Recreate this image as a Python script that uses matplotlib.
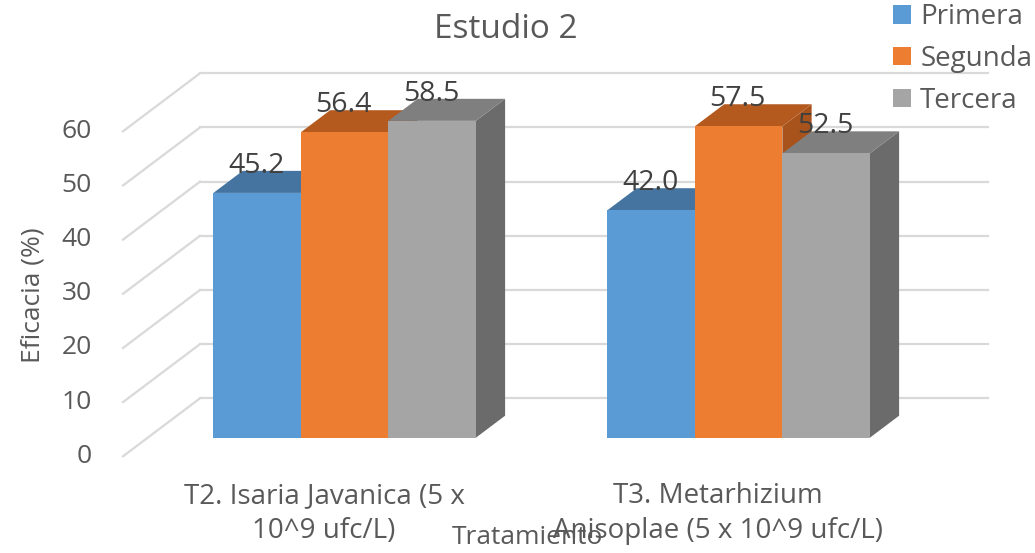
import matplotlib
matplotlib.use("Agg")
import matplotlib.pyplot as plt
from matplotlib.patches import Polygon, Patch
from matplotlib.transforms import Affine2D

# ---- data ----
categories = ["T2. Isaria Javanica (5 x\n10^9 ufc/L)",
              "T3. Metarhizium\nAnisoplae (5 x 10^9 ufc/L)"]
series_names = ["Primera", "Segunda", "Tercera"]
primera = [45.2, 42.0]
segunda = [56.4, 57.5]
tercera = [58.5, 52.5]
yticks = [0, 10, 20, 30, 40, 50, 60]
title = "Estudio 2"
ylabel = "Eficacia (%)"
xlabel = "Tratamiento"

# ---- style ----
front_cols = ["#5B9BD5", "#ED7D31", "#A5A5A5"]
top_cols = ["#44749F", "#B55A1F", "#7F7F7F"]
side_cols = ["#3E6A92", "#A8531C", "#6B6B6B"]
txt = "#595959"
grid_c = "#D9D9D9"
FONT = "Open Sans"

W, H = 1035, 553
fig = plt.figure(figsize=(W / 100, H / 100), dpi=100)
# back wall axes (pixels -> figure fraction)
left, right, y0px, y60px = 200, 988, 398.3, 73.3
ax = fig.add_axes([left / W, (H - y0px) / H, (right - left) / W, (y0px - y60px) / H])
ax.set_xlim(-0.5, 1.5)
ax.set_ylim(0, 60)
ax.axis("off")

DX, DY = -77.0, -58.0   # display offset from back (d=0) to front (d=1)


def tr(d, ox=0.0, oy=0.0):
    return ax.transData + Affine2D().translate(d * DX + ox, d * DY + oy)


inv = ax.transData.inverted()


def P(x, y, d):
    return inv.transform(tr(d).transform((x, y)))


# gridlines on back wall and side wall diagonals
for v in yticks:
    ax.plot([-0.5, 1.5], [v, v], color=grid_c, lw=1.6, clip_on=False, zorder=1)
    a = P(-0.5, v, 0)
    b = P(-0.5, v, 1)
    ax.plot([a[0], b[0]], [a[1], b[1]], color=grid_c, lw=1.6, clip_on=False, zorder=1)
    ax.text(-0.5, v, str(v), transform=tr(1, -31, 0), ha="right", va="center",
            fontsize=19, color=txt, family=FONT)

bw = 0.222
dfront, dback = 0.68, 0.30
all_series = [primera, segunda, tercera]

for ci in range(len(categories)):
    for si, vals in enumerate(all_series):
        v = vals[ci]
        x0 = ci + (si - 1) * bw - bw / 2
        x1 = x0 + bw
        z = 2 + ci * 10 + si * 3
        side = [P(x1, 0, dfront), P(x1, 0, dback), P(x1, v, dback), P(x1, v, dfront)]
        ax.add_patch(Polygon(side, closed=True, fc=side_cols[si], ec="none",
                             clip_on=False, zorder=z))
        top = [P(x0, v, dfront), P(x1, v, dfront), P(x1, v, dback), P(x0, v, dback)]
        ax.add_patch(Polygon(top, closed=True, fc=top_cols[si], ec="none",
                             clip_on=False, zorder=z + 1))
        front = [P(x0, 0, dfront), P(x1, 0, dfront), P(x1, v, dfront), P(x0, v, dfront)]
        ax.add_patch(Polygon(front, closed=True, fc=front_cols[si], ec="none",
                             clip_on=False, zorder=z + 2))
        ax.text((x0 + x1) / 2, v, f"{v:.1f}", transform=tr(dfront, -1, 27),
                ha="center", va="center", fontsize=20.5, color="#404040",
                family=FONT, zorder=50)

# category labels
for ci, lab in enumerate(categories):
    ax.text(ci, 0, lab, transform=tr(1, 4, -26), ha="center", va="top",
            fontsize=20, color=txt, family=FONT, linespacing=1.32, zorder=50)

fig.text(506 / W, 1 - 30 / H, title, ha="center", va="center", fontsize=24,
         color=txt, family=FONT)
fig.text(33 / W, 1 - 295 / H, ylabel, ha="center", va="center", rotation=90,
         fontsize=19, color=txt, family=FONT)
fig.text(527 / W, 1 - 538 / H, xlabel, ha="center", va="center", fontsize=19,
         color=txt, family=FONT)

handles = [Patch(fc=c, ec="none") for c in front_cols]
leg = fig.legend(handles, series_names, loc="upper left",
                 bbox_to_anchor=(893 / W, 1 - 3 / H), frameon=False,
                 handlelength=0.65, handleheight=0.65,
                 handletextpad=0.33, labelspacing=0.5, borderpad=0.0,
                 borderaxespad=0.0, prop={"family": FONT, "size": 20})
for t in leg.get_texts():
    t.set_color(txt)

fig.savefig("out.png", dpi=100)
